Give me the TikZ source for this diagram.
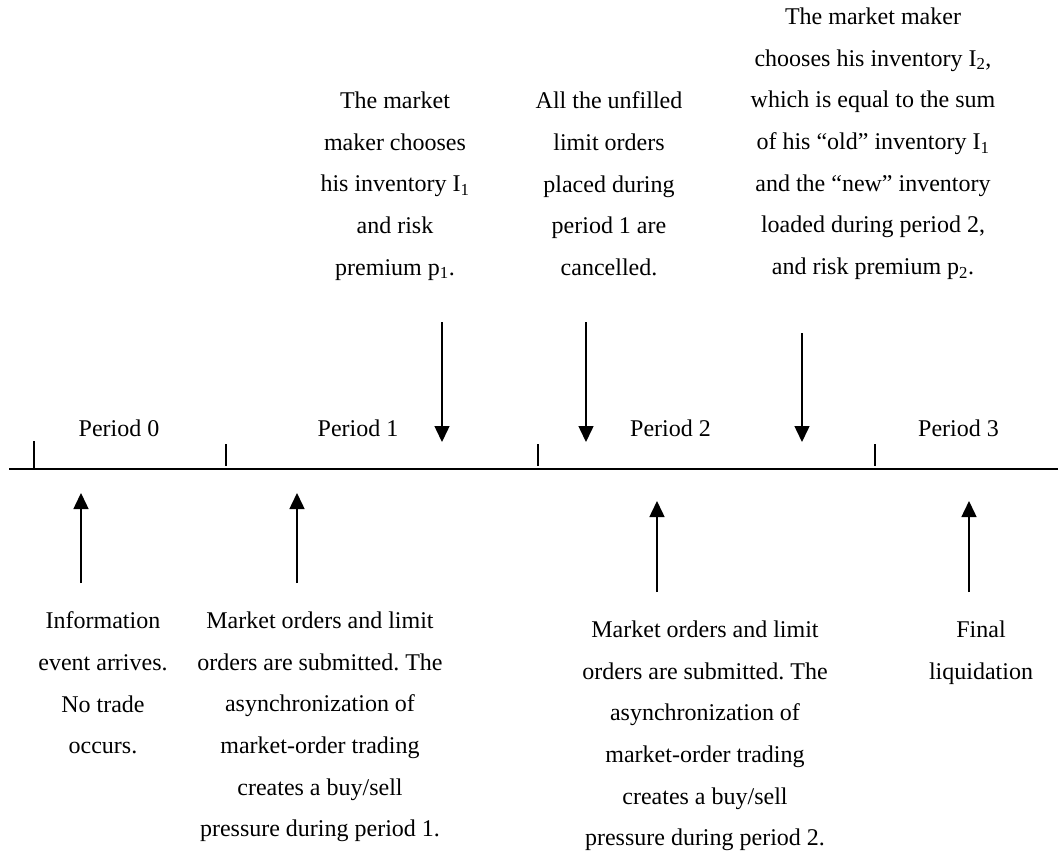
\documentclass[tikz,border=0pt]{standalone}
\usepackage{fontspec}
\setmainfont{Liberation Serif}
\usetikzlibrary{arrows.meta}
\frenchspacing
\begin{document}
\begin{tikzpicture}[x=1pt,y=-1pt,
  txt/.style={font=\fontsize{24}{41.7}\selectfont, align=center, inner sep=0pt, anchor=north},
  per/.style={font=\fontsize{24}{28}\selectfont, inner sep=0pt, anchor=base},
  arr/.style={line width=1.5pt, -{Triangle[width=15pt,length=16pt]}},
  tickmark/.style={line width=1.3pt},
  axis/.style={line width=1.6pt}]
\useasboundingbox (0,0) rectangle (1058,854);

% timeline
\coordinate (L0) at (9,469);
\coordinate (L1) at (1058,469);
\draw[axis] (L0) -- (L1);
\draw[tickmark] (34,441) -- (34,469);
\draw[tickmark] (226,444) -- (226,466);
\draw[tickmark] (538,444) -- (538,466);
\draw[tickmark] (875,444) -- (875,466);

% period labels
\node[per] (p0) at (119,436) {Period 0};
\node[per] (p1) at (358,436) {Period 1};
\node[per] (p2) at (670.5,436) {Period 2};
\node[per] (p3) at (958.5,436) {Period 3};

% top texts
\node[txt] (tA) at (395,91.6) {The market\\maker chooses\\his inventory I\textsubscript{1}\\and risk\\premium p\textsubscript{1}.};
\node[txt] (tB) at (609,91.6) {All the unfilled\\limit orders\\placed during\\period 1 are\\cancelled.};
\node[txt] (tC) at (873,7.5) {The market maker\\chooses his inventory I\textsubscript{2},\\which is equal to the sum\\of his “old” inventory I\textsubscript{1}\\and the “new” inventory\\loaded during period 2,\\and risk premium p\textsubscript{2}.};

% bottom texts
\node[txt] (bD) at (103,611.6) {Information\\event arrives.\\No trade\\occurs.};
\node[txt] (bE) at (320,611.6) {Market orders and limit\\orders are submitted. The\\asynchronization of\\market-order trading\\creates a buy/sell\\pressure during period 1.};
\node[txt] (bF) at (705,620.6) {Market orders and limit\\orders are submitted. The\\asynchronization of\\market-order trading\\creates a buy/sell\\pressure during period 2.};
\node[txt] (bG) at (981,620.6) {Final\\liquidation};

% down arrows
\coordinate (d1s) at (442,322); \coordinate (d1e) at (442,442);
\coordinate (d2s) at (586,322); \coordinate (d2e) at (586,442);
\coordinate (d3s) at (802,333); \coordinate (d3e) at (802,442);
\draw[arr] (d1s) -- (d1e);
\draw[arr] (d2s) -- (d2e);
\draw[arr] (d3s) -- (d3e);

% up arrows
\coordinate (u1s) at (81,583); \coordinate (u1e) at (81,493);
\coordinate (u2s) at (297,583); \coordinate (u2e) at (297,493);
\coordinate (u3s) at (657,592); \coordinate (u3e) at (657,501);
\coordinate (u4s) at (969,592); \coordinate (u4e) at (969,501);
\draw[arr] (u1s) -- (u1e);
\draw[arr] (u2s) -- (u2e);
\draw[arr] (u3s) -- (u3e);
\draw[arr] (u4s) -- (u4e);
\end{tikzpicture}
\end{document}
